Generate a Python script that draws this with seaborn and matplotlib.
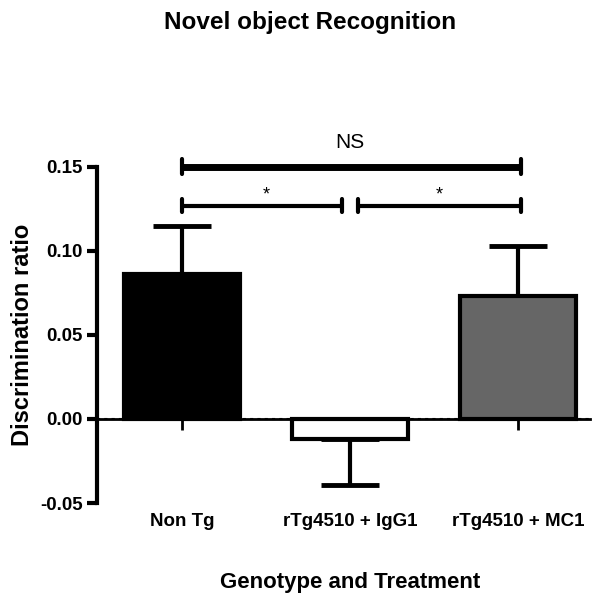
import pandas as pd
import matplotlib
matplotlib.use('Agg')
import matplotlib.pyplot as plt
import seaborn as sns

# data
groups = ['Non Tg', 'rTg4510 + IgG1', 'rTg4510 + MC1']
means = [0.086, -0.012, 0.073]
sems = [0.029, 0.027, 0.030]
bar_colors = ['#000000', '#ffffff', '#666666']

sns.set_style('ticks')
plt.rcParams['font.family'] = ['Liberation Sans', 'DejaVu Sans']
plt.rcParams.update({'text.color': 'black', 'axes.labelcolor': 'black',
                     'xtick.color': 'black', 'ytick.color': 'black',
                     'axes.edgecolor': 'black'})

df = pd.DataFrame({'group': groups, 'ratio': means})

fig = plt.figure(figsize=(6.14, 6.09), dpi=100)
ax = fig.add_axes([0.158, 0.174, 0.803, 0.552])

sns.barplot(data=df, x='group', y='ratio', hue='group', palette=bar_colors,
            edgecolor='black', linewidth=3, width=0.69, legend=False,
            errorbar=None, ax=ax, zorder=3)

# one-sided error bars (away from zero)
for i, (m, s) in enumerate(zip(means, sems)):
    lo = s if m < 0 else 0
    hi = s if m >= 0 else 0
    ax.errorbar(i, m, yerr=[[lo], [hi]], fmt='none', ecolor='black',
                elinewidth=3, capsize=21, capthick=3.5, zorder=2)

ax.axhline(0, color='black', linestyle=(0, (1.5, 2)), linewidth=1.5, zorder=4)

ax.set_xlim(-0.506, 2.43)
ax.set_ylim(-0.05, 0.15)
ax.set_yticks([-0.05, 0.0, 0.05, 0.10, 0.15])
ax.set_yticklabels(['-0.05', '0.00', '0.05', '0.10', '0.15'])

sns.despine(ax=ax)
ax.spines['bottom'].set_position(('data', 0))
ax.spines['left'].set_linewidth(3)
ax.spines['bottom'].set_linewidth(2)
ax.tick_params(axis='y', width=3, length=7, labelsize=13.5)
ax.tick_params(axis='x', width=2, length=8, labelsize=13.5, pad=60)
for lab in ax.get_yticklabels() + ax.get_xticklabels():
    lab.set_fontweight('bold')

ax.set_xlabel('')
ax.set_ylabel('Discrimination ratio', fontsize=17, fontweight='bold', labelpad=4)
fig.text(0.57, 0.043, 'Genotype and Treatment', ha='center', va='center',
         fontsize=16, fontweight='bold')

# significance brackets
def bracket(x1, x2, y, lw, tick):
    ax.plot([x1, x2], [y, y], color='black', lw=lw, clip_on=False, solid_capstyle='butt')
    for x in (x1, x2):
        ax.plot([x, x], [y - tick, y + tick], color='black', lw=3, clip_on=False)

bracket(0.0, 2.02, 0.150, 5, 0.0045)
bracket(0.0, 0.95, 0.127, 3, 0.004)
bracket(1.05, 2.02, 0.127, 3, 0.004)
ax.text(1.0, 0.159, 'NS', ha='center', va='bottom', fontsize=15, clip_on=False)
ax.text(0.5, 0.128, '*', ha='center', va='bottom', fontsize=13, clip_on=False)
ax.text(1.53, 0.128, '*', ha='center', va='bottom', fontsize=13, clip_on=False)

fig.text(0.505, 0.963, 'Novel object Recognition', ha='center', va='center',
         fontsize=17.5, fontweight='bold')

fig.savefig('out.png', dpi=100, facecolor='white')
